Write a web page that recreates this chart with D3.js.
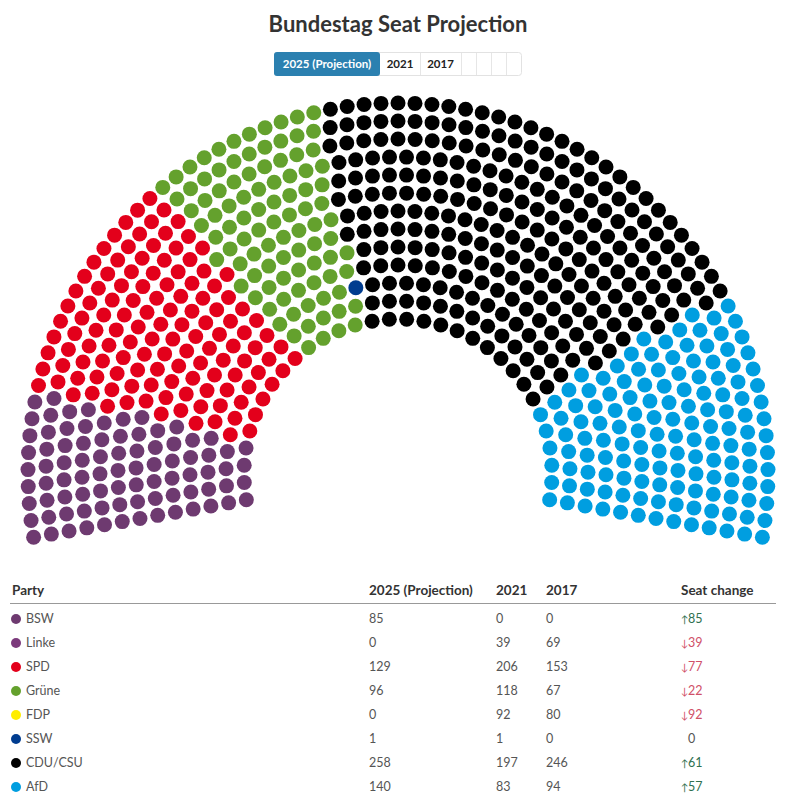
<!DOCTYPE html>
<html>
<head>
<meta charset="utf-8">
<script src="https://cdn.jsdelivr.net/npm/d3@7"></script>
<style>
  body { margin: 0; background: #fff; font-family: Lato, "Noto Sans", sans-serif; }
</style>
</head>
<body>
<svg id="drawing_region"></svg>
<script>
// data
const parties   = ['BSW', 'Linke', 'SPD', 'Grüne', 'FDP', 'SSW', 'CDU/CSU', 'AfD'];
const seats2025 = [85, 0, 129, 96, 0, 1, 258, 140];
const seats2021 = [0, 39, 206, 118, 92, 1, 197, 83];
const seats2017 = [0, 69, 153, 67, 80, 0, 246, 94];
const partyColors = ['#6e3a70', '#7c3a7c', '#e3001b', '#64a12d', '#ffed00', '#003c8f', '#000000', '#009ee0'];
const years = ['2025 (Projection)', '2021', '2017'];

class Parliament {

    constructor( config ) {
        this.config = {
            parent: config.parent,
            width: config.width || 796,
            height: config.height || 805,
            cx: config.cx,
            cy: config.cy,
            inner: config.inner,
            outer: config.outer,
            rows: config.rows,
            dot: config.dot
        }
        this.init();
    }

    init() {
        let self = this;

        self.svg = d3.select( self.config.parent )
            .attr('width', self.config.width)
            .attr('height', self.config.height);

        self.color = d3.scaleOrdinal()
            .domain( parties )
            .range( partyColors );

        self.radius = d3.scaleLinear()
            .domain( [0, self.config.rows - 1] )
            .range( [self.config.inner, self.config.outer] );

        // angle measured from the left, arc reaches 10 degrees below horizontal each side
        self.angle = d3.scaleLinear()
            .domain( [0, 1] )
            .range( [-10 * Math.PI / 180, 190 * Math.PI / 180] );
    }

    seats() {
        let self = this;
        const total = d3.sum( seats2025 );
        const radii = d3.range( self.config.rows ).map( i => self.radius(i) );
        const rsum = d3.sum( radii );
        // seats per row proportional to radius (largest remainder)
        let raw = radii.map( r => total * r / rsum );
        let counts = raw.map( Math.floor );
        let left = total - d3.sum( counts );
        raw.map( (v, i) => [v - Math.floor(v), i] )
            .sort( (a, b) => b[0] - a[0] )
            .slice( 0, left )
            .forEach( d => counts[d[1]]++ );

        let list = [];
        radii.forEach( (r, i) => {
            const n = counts[i];
            for ( let k = 0; k < n; k++ ) {
                const t = n > 1 ? k / (n - 1) : 0.5;
                const a = self.angle(t);
                list.push({ t: t, row: i, x: self.config.cx - r * Math.cos(a), y: self.config.cy - r * Math.sin(a) });
            }
        });
        list.sort( (a, b) => a.t - b.t || a.row - b.row );

        let idx = 0;
        parties.forEach( (p, j) => {
            for ( let s = 0; s < seats2025[j]; s++ ) list[idx++].party = p;
        });
        return list;
    }

    render() {
        let self = this;

        self.svg.append('text')
            .attr('x', 398)
            .attr('y', 32)
            .attr('text-anchor', 'middle')
            .attr('font-size', 22)
            .attr('font-weight', 'bold')
            .attr('fill', '#333')
            .text('Bundestag Seat Projection');

        // year buttons
        const bx = d3.scaleOrdinal()
            .domain( [0, 1, 2, 3, 4, 5, 6, 7] )
            .range( [274, 380, 420, 461, 476, 491, 506, 522] );
        const btn = self.svg.append('g');
        btn.append('rect')
            .attr('x', 274.5).attr('y', 52.5)
            .attr('width', 247).attr('height', 23)
            .attr('rx', 3)
            .attr('fill', '#fff')
            .attr('stroke', '#e2e2e2');
        btn.append('rect')
            .attr('x', 274).attr('y', 52)
            .attr('width', bx(1) - bx(0)).attr('height', 24)
            .attr('rx', 3)
            .attr('fill', '#2b80b0');
        btn.selectAll('line')
            .data( [2, 3, 4, 5, 6] )
            .join('line')
            .attr('x1', d => bx(d) + 0.5).attr('x2', d => bx(d) + 0.5)
            .attr('y1', 53).attr('y2', 75)
            .attr('stroke', '#e6e6e6');
        btn.selectAll('text')
            .data( years )
            .join('text')
            .attr('x', (d, i) => (bx(i) + bx(i + 1)) / 2)
            .attr('y', 68)
            .attr('text-anchor', 'middle')
            .attr('font-size', 11.5)
            .attr('font-weight', 'bold')
            .attr('fill', (d, i) => i == 0 ? '#fff' : '#222')
            .text( d => d );

        // hemicycle
        self.svg.append('g')
            .selectAll('circle')
            .data( self.seats() )
            .join('circle')
            .attr('cx', d => d.x)
            .attr('cy', d => d.y)
            .attr('r', self.config.dot)
            .attr('fill', d => self.color(d.party));

        // table
        const rowY = d3.scaleLinear()
            .domain( [0, 1] )
            .range( [619, 643] );
        const table = self.svg.append('g')
            .attr('font-size', 12.5);

        const head = [['Party', 12], [years[0], 369], [years[1], 496], [years[2], 546], ['Seat change', 681]];
        table.selectAll('text.head')
            .data( head )
            .join('text')
            .attr('class', 'head')
            .attr('x', d => d[1])
            .attr('y', 590)
            .attr('dy', '0.35em')
            .attr('font-size', 13.5)
            .attr('font-weight', 'bold')
            .attr('fill', '#333')
            .text( d => d[0] );

        table.append('line')
            .attr('x1', 10).attr('x2', 776)
            .attr('y1', 603.5).attr('y2', 603.5)
            .attr('stroke', '#999');

        const rows = table.selectAll('g.row')
            .data( parties )
            .join('g')
            .attr('class', 'row')
            .attr('transform', (d, i) => `translate(0, ${rowY(i)})`);

        rows.append('circle')
            .attr('cx', 16)
            .attr('r', 5)
            .attr('fill', d => self.color(d));

        rows.append('text')
            .attr('x', 26)
            .attr('dy', '0.35em')
            .attr('fill', '#555')
            .text( d => d );

        [[seats2025, 369], [seats2021, 496], [seats2017, 546]].forEach( col => {
            rows.append('text')
                .attr('x', col[1])
                .attr('dy', '0.35em')
                .attr('fill', '#555')
                .text( (d, i) => col[0][i] );
        });

        const change = i => seats2025[i] - seats2021[i];
        const changeColor = c => c > 0 ? '#2f7050' : c < 0 ? '#d05068' : '#555';

        rows.append('text')
            .attr('x', 681)
            .attr('dy', '0.35em')
            .attr('font-size', 10)
            .attr('fill', (d, i) => changeColor(change(i)))
            .text( (d, i) => change(i) > 0 ? '↑' : change(i) < 0 ? '↓' : '' );

        rows.append('text')
            .attr('x', 688)
            .attr('dy', '0.35em')
            .attr('fill', (d, i) => changeColor(change(i)))
            .text( (d, i) => Math.abs(change(i)) );
    }
}

const chart = new Parliament({
    parent: '#drawing_region',
    width: 796,
    height: 805,
    cx: 398,
    cy: 473,
    inner: 154,
    outer: 370,
    rows: 13,
    dot: 7.5
});
chart.render();
</script>
</body>
</html>
